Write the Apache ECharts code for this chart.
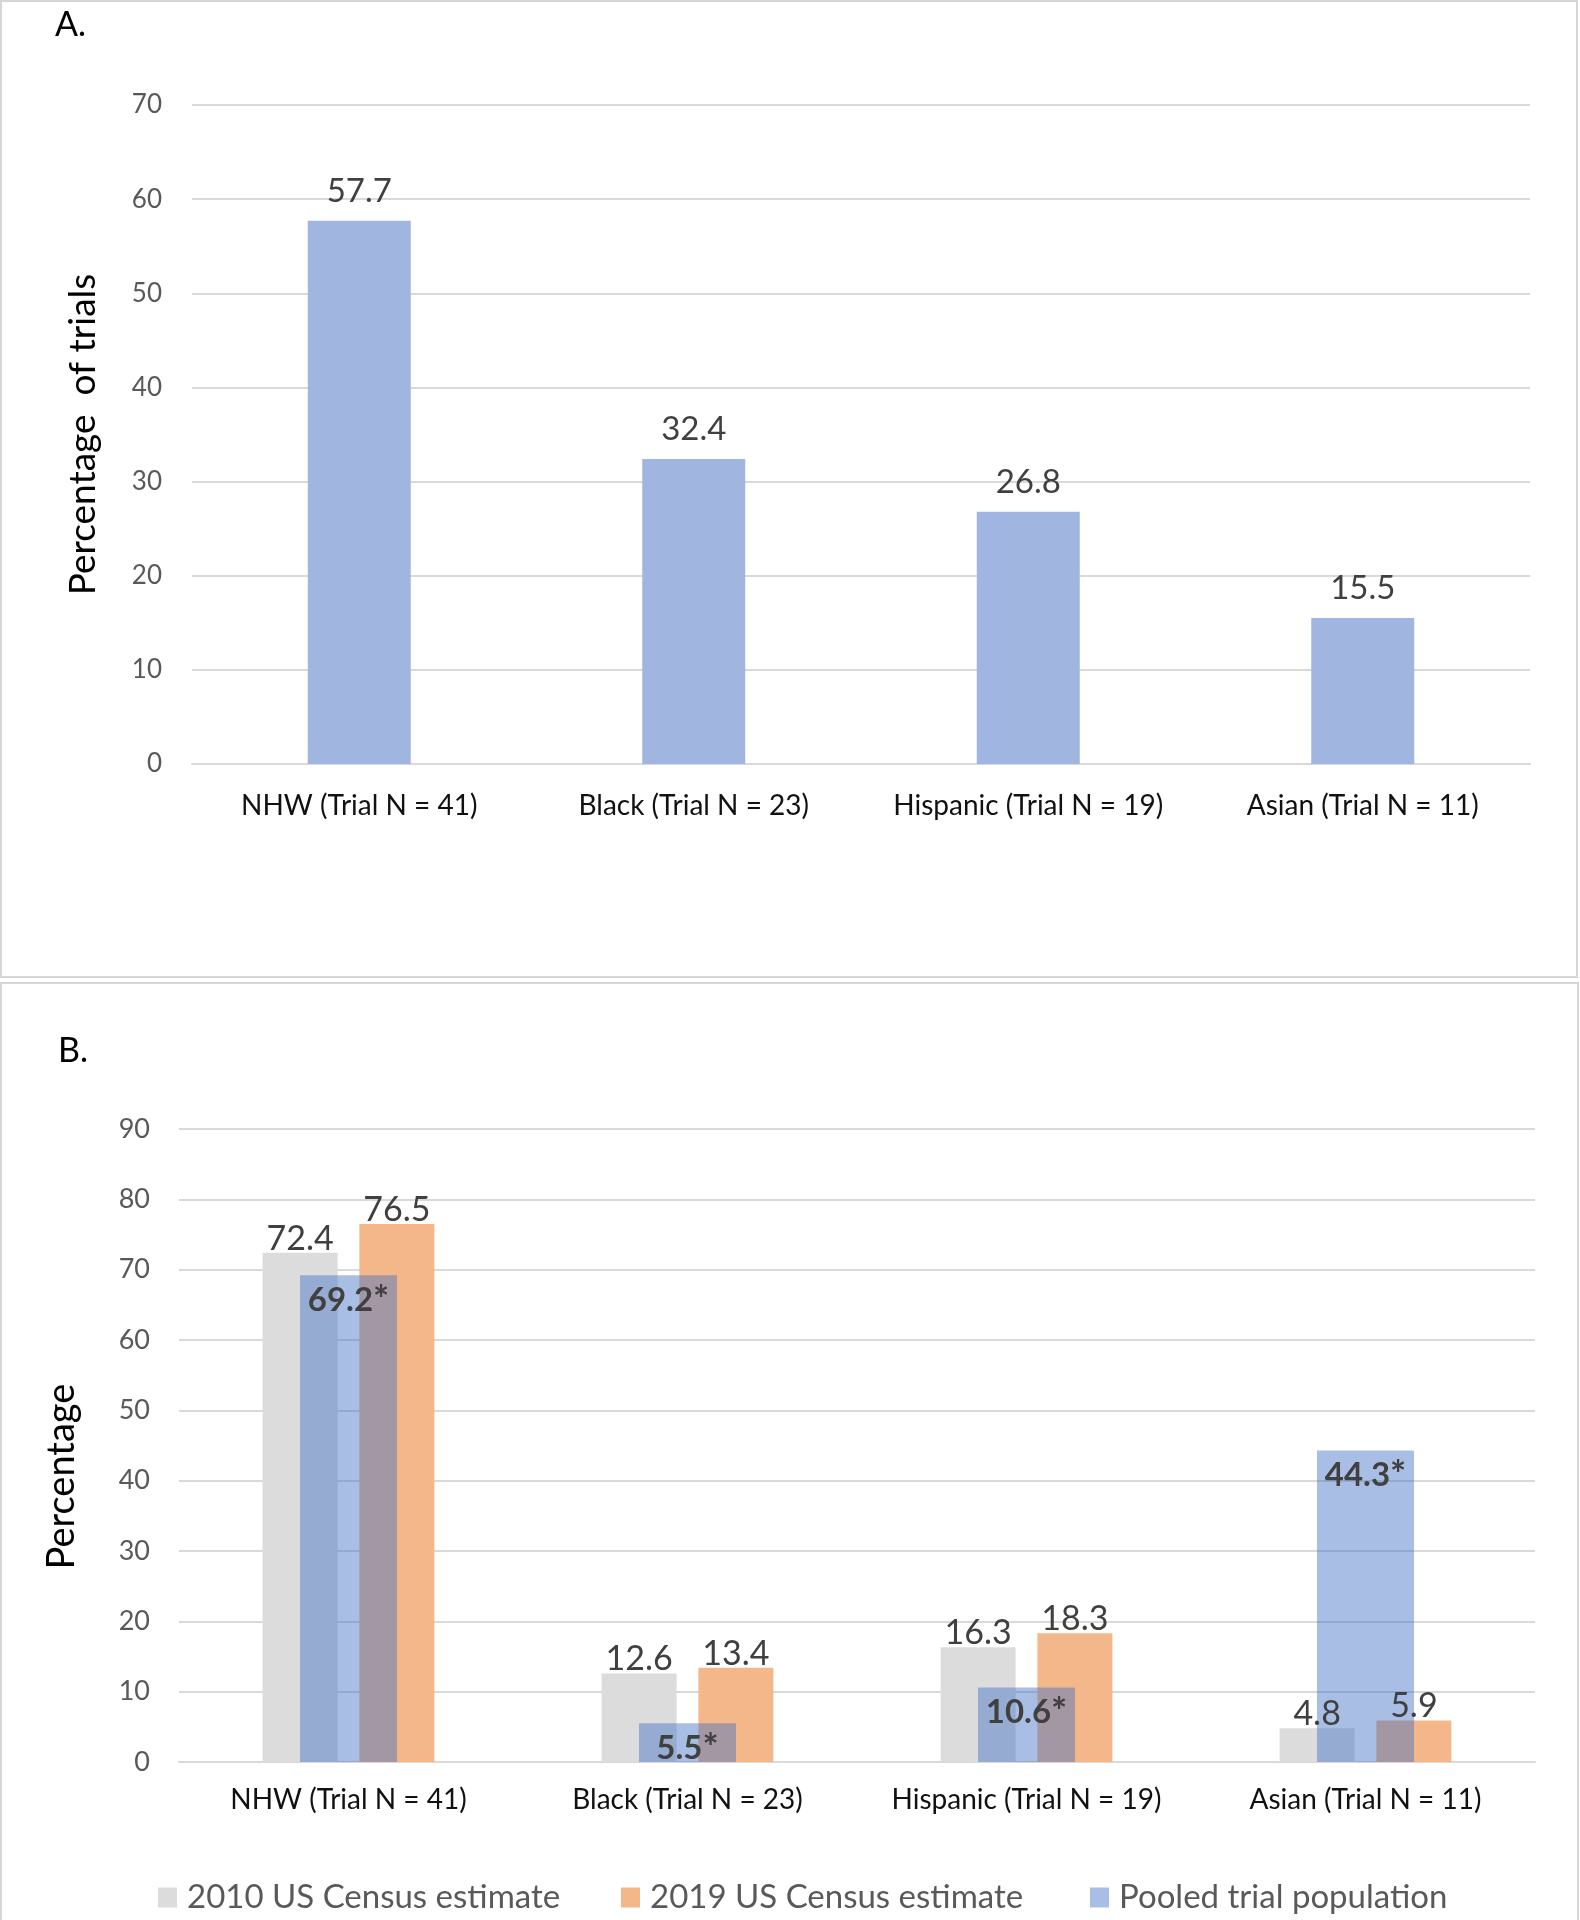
<!DOCTYPE html>
<html>
<head>
<meta charset="utf-8">
<script src="https://cdn.jsdelivr.net/npm/echarts@6/dist/echarts.min.js"></script>
<style>
  html, body { margin: 0; padding: 0; background: #fff; }
  #main { width: 1580px; height: 1920px; }
</style>
</head>
<body>
<div id="main"></div>
<script>
// 数据
var groups = ['NHW (Trial N = 41)', 'Black (Trial N = 23)', 'Hispanic (Trial N = 19)', 'Asian (Trial N = 11)'];
var trialPct = [57.7, 32.4, 26.8, 15.5];          // A. 试验百分比
var census2010 = [72.4, 12.6, 16.3, 4.8];         // B. 2010 人口普查
var census2019 = [76.5, 13.4, 18.3, 5.9];         // B. 2019 人口普查
var pooled = [69.2, 5.5, 10.6, 44.3];             // B. 汇总试验人群
var seriesNames = ['2010 US Census estimate', '2019 US Census estimate', 'Pooled trial population'];

var font = 'Lato, "Open Sans", sans-serif';
var gridColor = '#D9D9D9';

var myChart = echarts.init(document.getElementById('main'));

myChart.setOption({
    textStyle: { fontFamily: font },
    animation: false,
    graphic: [
        { type: 'rect', shape: { x: 1, y: 1, width: 1576, height: 976 }, style: { fill: 'none', stroke: '#D6D6D6', lineWidth: 2 } },
        { type: 'rect', shape: { x: 1, y: 983, width: 1577, height: 940 }, style: { fill: 'none', stroke: '#D6D6D6', lineWidth: 2 } },
        { type: 'text', left: 55, top: 8, style: { text: 'A.', font: '34px ' + font, fill: '#000' } },
        { type: 'text', left: 58, top: 1034, style: { text: 'B.', font: '34px ' + font, fill: '#000' } }
    ],
    grid: [
        { left: 192, top: 105, width: 1338, height: 659 },
        { left: 179, top: 1129, width: 1356, height: 633 }
    ],
    legend: [
        { data: [seriesNames[0]], left: 153, top: 1876 },
        { data: [seriesNames[1]], left: 616, top: 1876 },
        { data: [seriesNames[2]], left: 1085, top: 1876 }
    ].map(function (l) {
        l.itemWidth = 19;
        l.itemHeight = 20;
        l.icon = 'rect';
        l.textStyle = { fontSize: 33, color: '#595959', fontFamily: font, padding: [0, 0, 0, 5] };
        l.itemGap = 10;
        return l;
    }),
    xAxis: [
        {
            gridIndex: 0, type: 'category', data: groups,
            axisLine: { lineStyle: { color: gridColor, width: 2 } },
            axisTick: { show: false },
            axisLabel: { interval: 0, fontSize: 28, color: '#111', margin: 28 }
        },
        {
            gridIndex: 1, type: 'category', data: groups,
            axisLine: { lineStyle: { color: gridColor, width: 2 } },
            axisTick: { show: false },
            axisLabel: { interval: 0, fontSize: 28, color: '#111', margin: 24 }
        },
        {
            gridIndex: 1, type: 'category', data: groups, show: false
        }
    ],
    yAxis: [
        {
            gridIndex: 0, type: 'value', min: 0, max: 70, interval: 10,
            name: 'Percentage  of trials', nameLocation: 'middle', nameGap: 90,
            nameTextStyle: { fontSize: 37, color: '#000' },
            axisLabel: { fontSize: 26, color: '#595959', margin: 30 },
            splitLine: { lineStyle: { color: gridColor, width: 2 } }
        },
        {
            gridIndex: 1, type: 'value', min: 0, max: 90, interval: 10,
            name: 'Percentage', nameLocation: 'middle', nameGap: 98,
            nameTextStyle: { fontSize: 38, color: '#000', padding: [0, 62, 0, 0] },
            axisLabel: { fontSize: 27, color: '#595959', margin: 29 },
            splitLine: { lineStyle: { color: gridColor, width: 2 } }
        }
    ],
    series: [
        {
            name: 'Percentage of trials', type: 'bar', xAxisIndex: 0, yAxisIndex: 0,
            data: trialPct, barWidth: 103,
            itemStyle: { color: '#A0B6E0' },
            label: { show: true, position: 'top', distance: 13, fontSize: 33, color: '#404040' }
        },
        {
            name: seriesNames[0], type: 'bar', xAxisIndex: 1, yAxisIndex: 1,
            data: census2010, barWidth: 75, barGap: '29%',
            itemStyle: { color: '#DCDCDC' },
            label: { show: true, position: 'top', distance: -3, fontSize: 34, color: '#404040' }
        },
        {
            name: seriesNames[1], type: 'bar', xAxisIndex: 1, yAxisIndex: 1,
            data: census2019, barWidth: 75, barGap: '29%',
            itemStyle: { color: '#F4B78A' },
            label: { show: true, position: 'top', distance: -3, fontSize: 34, color: '#404040' }
        },
        {
            name: seriesNames[2], type: 'bar', xAxisIndex: 2, yAxisIndex: 1,
            data: pooled, barWidth: 97,
            itemStyle: { color: 'rgba(68,114,196,0.46)' },
            label: {
                show: true, position: 'insideTop', distance: 6, color: '#404040',
                formatter: '{v|{c}}{s|*}',
                rich: {
                    v: { fontSize: 33, fontWeight: 'bold', color: '#404040', fontFamily: font },
                    s: { fontSize: 38, fontWeight: 'bold', color: '#404040', fontFamily: font }
                }
            }
        }
    ]
});
</script>
</body>
</html>
